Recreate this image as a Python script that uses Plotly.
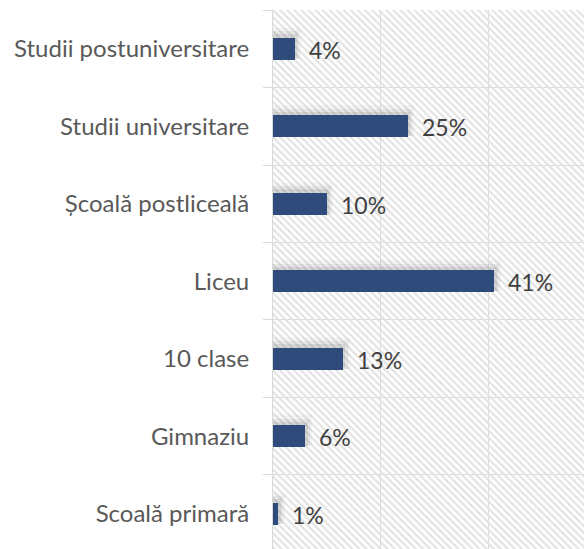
import plotly.graph_objects as go

categories = ["Scoală primară", "Gimnaziu", "10 clase", "Liceu",
              "Școală postliceală", "Studii universitare", "Studii postuniversitare"]
values = [0.01, 0.06, 0.13, 0.41, 0.10, 0.25, 0.04]
value_labels = ["1%", "6%", "13%", "41%", "10%", "25%", "4%"]

BAR = "#2F4B7C"
FONT = "Lato, 'Open Sans', sans-serif"
XMAX = 0.576
BW = 0.284

fig = go.Figure()

# hatched plot background
fig.add_trace(go.Bar(
    y=categories, x=[1] * len(categories), orientation="h", width=1,
    marker=dict(color="rgba(0,0,0,0)", line=dict(width=0),
                pattern=dict(shape="\\", fgcolor="#E3E3E3", bgcolor="rgba(0,0,0,0)",
                             size=5, solidity=0.45, fillmode="replace")),
    hoverinfo="skip", showlegend=False))

# soft shadow layers (offset upward)
for w, op, dx in [(0.40, 0.04, 0.012), (0.36, 0.07, 0.008), (0.32, 0.10, 0.004)]:
    fig.add_trace(go.Bar(
        y=categories, x=[v + dx for v in values], orientation="h", width=w,
        offset=-BW / 2 + 0.01,
        marker=dict(color=f"rgba(60,60,60,{op})", line=dict(width=0)),
        hoverinfo="skip", showlegend=False))

fig.add_trace(go.Bar(
    y=categories, x=values, orientation="h", width=BW,
    marker=dict(color=BAR, line=dict(width=0)), showlegend=False))

for c, v, t in zip(categories, values, value_labels):
    fig.add_annotation(x=v, y=c, text=t, showarrow=False, xanchor="left",
                       xshift=12, yshift=-1,
                       font=dict(family=FONT, size=23, color="#404040"))

fig.update_layout(
    width=584, height=549,
    margin=dict(l=273, r=0, t=10, b=0, autoexpand=False),
    paper_bgcolor="white", plot_bgcolor="white",
    barmode="overlay", bargap=0,
    font=dict(family=FONT),
)
fig.update_xaxes(range=[0, XMAX], dtick=0.2, showgrid=True, gridcolor="#D9D9D9",
                 gridwidth=1, showticklabels=False, zeroline=False, ticks="")
fig.update_yaxes(type="category", categoryorder="array", categoryarray=categories,
                 range=[-0.455, 6.5], tickson="boundaries", showgrid=True,
                 gridcolor="#D9D9D9", gridwidth=1, ticks="outside", ticklen=9,
                 tickcolor="#D9D9D9", showline=True, linecolor="#D9D9D9",
                 ticklabelstandoff=18, automargin=False,
                 tickfont=dict(family=FONT, size=24, color="#595959"))

fig.write_html("out.html", config={"displayModeBar": False},
               post_script="document.body.style.margin='0';document.body.style.overflow='hidden';")
